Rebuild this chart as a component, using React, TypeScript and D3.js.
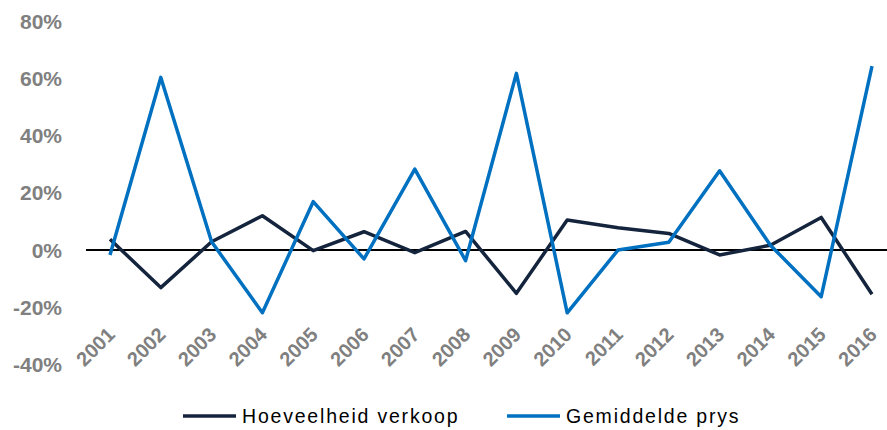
import { useEffect, useRef } from "react";
import * as d3 from "d3";

const years = [
  "2001", "2002", "2003", "2004", "2005", "2006", "2007", "2008",
  "2009", "2010", "2011", "2012", "2013", "2014", "2015", "2016",
];

// Hoeveelheid verkoop (%)
const verkoop = [3.8, -13.1, 2.9, 12.0, -0.2, 6.4, -0.9, 6.5, -15.1, 10.5, 7.8, 5.8, -1.7, 1.7, 11.4, -15.4];
// Gemiddelde prys (%)
const prys = [-1.7, 60.3, 2.9, -21.9, 16.9, -3.1, 28.3, -3.7, 61.7, -21.9, 0, 2.7, 27.7, 1.7, -16.3, 64.2];

const yTicks = [80, 60, 40, 20, 0, -20, -40];

const seriesNames = ["Hoeveelheid verkoop", "Gemiddelde prys"];
const seriesColors = ["#14243d", "#0070c0"];

export default function App() {
  const svgRef = useRef<SVGSVGElement>(null);

  useEffect(() => {
    if (!svgRef.current) return;
    const svg = d3.select(svgRef.current);
    svg.selectAll("*").remove();

    const width = 887;
    const height = 430;

    // ── Scales ────────────────────────────────────────
    const x = d3.scalePoint<string>().domain(years).range([110, 872]);
    const y = d3.scaleLinear().domain([-40, 80]).range([364.6, 21]);

    // ── Y labels ──────────────────────────────────────
    yTicks.forEach((t) => {
      svg.append("text")
        .attr("x", 62)
        .attr("y", y(t))
        .attr("text-anchor", "end")
        .attr("dominant-baseline", "central")
        .attr("font-family", "'Liberation Sans', Arial, sans-serif")
        .attr("font-weight", "bold")
        .attr("font-size", 21)
        .attr("fill", "#808080")
        .text(`${t}%`);
    });

    // ── Zero line ─────────────────────────────────────
    svg.append("line")
      .attr("x1", 86).attr("x2", width)
      .attr("y1", y(0)).attr("y2", y(0))
      .attr("stroke", "#000")
      .attr("stroke-width", 2);

    // ── X labels (rotated) ────────────────────────────
    years.forEach((yr) => {
      const cx = (x(yr) ?? 0) + 6;
      const cy = 336;
      svg.append("text")
        .attr("transform", `translate(${cx},${cy}) rotate(-45)`)
        .attr("text-anchor", "end")
        .attr("font-family", "'Liberation Sans', Arial, sans-serif")
        .attr("font-weight", "bold")
        .attr("font-size", 20)
        .attr("fill", "#808080")
        .text(yr);
    });

    // ── Lines ─────────────────────────────────────────
    const line = d3.line<number>()
      .x((_, i) => x(years[i]) ?? 0)
      .y((v) => y(v));

    [verkoop, prys].forEach((vals, i) => {
      svg.append("path")
        .attr("d", line(vals) ?? "")
        .attr("fill", "none")
        .attr("stroke", seriesColors[i])
        .attr("stroke-width", 3.5)
        .attr("stroke-linejoin", "round");
    });

    // ── Legend ────────────────────────────────────────
    const legendX = [183, 507];
    const legendY = 416;
    seriesNames.forEach((name, i) => {
      svg.append("line")
        .attr("x1", legendX[i]).attr("x2", legendX[i] + 53)
        .attr("y1", legendY).attr("y2", legendY)
        .attr("stroke", seriesColors[i])
        .attr("stroke-width", 3.5);
      svg.append("text")
        .attr("x", legendX[i] + 59)
        .attr("y", legendY)
        .attr("dominant-baseline", "central")
        .attr("font-family", "'Liberation Sans', Arial, sans-serif")
        .attr("font-size", 19.5)
        .attr("letter-spacing", 1.8)
        .attr("fill", "#000")
        .text(name);
    });

    svg.attr("width", width).attr("height", height);
  }, []);

  return (
    <svg
      ref={svgRef}
      width={887}
      height={430}
      style={{ position: "absolute", left: 0, top: 0, background: "#fff" }}
    />
  );
}
